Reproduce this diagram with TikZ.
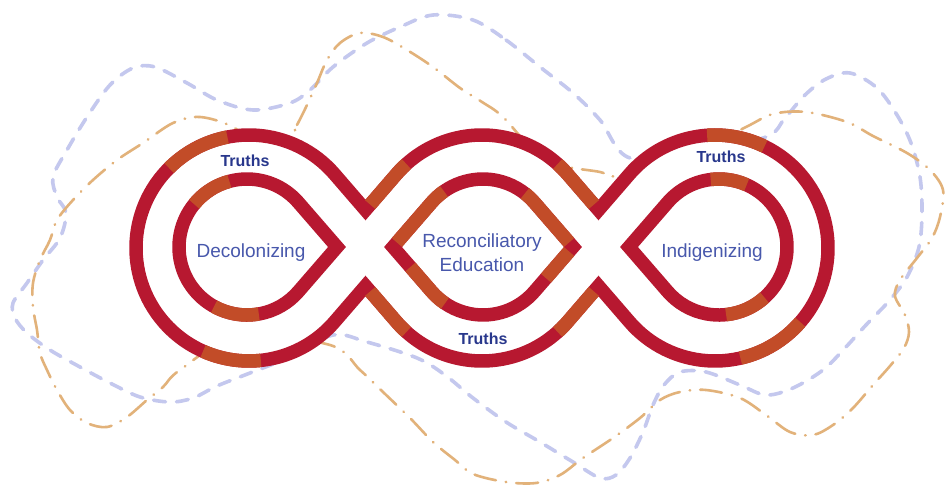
\documentclass[tikz,border=0pt]{standalone}
\usepackage{fontspec}
\setmainfont{Liberation Sans}
\usetikzlibrary{calc}
\definecolor{ringred}{RGB}{183,24,48}
\definecolor{ringorange}{RGB}{194,76,40}
\definecolor{dashblue}{RGB}{196,200,238}
\definecolor{dashtan}{RGB}{226,178,122}
\definecolor{truthblue}{RGB}{40,55,140}
\definecolor{labelblue}{RGB}{72,88,172}
\newcommand\accarc[4]{\draw[accent] ($(#1)+(#2:#4)$) arc[start angle=#2, end angle=#3, radius=#4];}
\begin{document}
\begin{tikzpicture}[x=1pt,y=-1pt,
  ring/.style={draw=ringred, line width=13.5pt, line join=miter, miter limit=6},
  accent/.style={draw=ringorange, line width=13.5pt, line cap=butt},
  bluedash/.style={draw=dashblue, line width=3.6pt, dash pattern=on 12pt off 11pt, line cap=round},
  tandash/.style={draw=dashtan, line width=2.6pt, dash pattern=on 22pt off 10pt on 0.5pt off 10pt, line cap=round},
  truths/.style={font=\bfseries\fontsize{16}{19}\selectfont, text=truthblue, inner sep=0pt},
  lbl/.style={font=\fontsize{19}{24}\selectfont, text=labelblue, align=center, inner sep=0pt}]
\useasboundingbox (0,0) rectangle (946,489);
\fill[white] (0,0) rectangle (946,489);

\coordinate (o1) at (249,248);
\coordinate (o2) at (482,248);
\coordinate (o3) at (715,248);
\coordinate (i1) at (247,247);
\coordinate (i2) at (483,247);
\coordinate (i3) at (719,247);

% dashed background blobs
\draw[bluedash] plot[smooth cycle, tension=0.55] coordinates {
(473,20) (506,40) (540,67) (573,93) (600,120) (630,158) (700,150) (766,137)
(785,118) (805,95) (826,79) (850,73) (877,88) (897,115) (911,143) (920,177)
(922,213) (919,247) (907,277) (889,301) (866,325) (845,348) (823,370) (793,388)
(766,395) (740,385) (706,372) (680,372) (664,385) (653,405) (643,432) (630,458)
(616,475) (600,478) (573,462) (540,442) (506,422) (473,398) (445,375) (417,358)
(367,342) (333,335) (290,357) (250,373) (217,386) (193,398) (170,402) (140,397)
(110,383) (80,367) (50,350) (27,333) (15,318) (13,303) (27,283) (43,260)
(60,238) (66,213) (57,197) (53,177) (67,150) (87,117) (110,85) (133,68)
(155,67) (187,83) (217,100) (253,110) (290,103) (310,90) (333,67) (367,43)
(400,27) (433,15)};

\draw[tandash] plot[smooth cycle, tension=0.55] coordinates {
(290,137) (297,125) (307,105) (317,83) (327,60) (340,43) (360,33) (383,37)
(407,50) (433,67) (460,88) (482,102) (503,117) (545,160) (600,172) (616,176)
(680,160) (746,127) (773,114) (806,112) (847,122) (873,136) (907,153) (930,170)
(943,190) (940,217) (932,238) (917,258) (900,280) (895,296) (905,315) (909,332)
(904,348) (890,366) (873,385) (853,408) (833,425) (813,435) (790,432) (766,415)
(740,398) (706,390) (680,392) (660,400) (640,418) (613,438) (583,458) (560,475)
(536,483) (506,482) (473,474) (455,460) (433,442) (410,418) (383,392) (360,370)
(330,345) (240,335) (180,370) (163,387) (147,400) (127,417) (107,427) (87,423)
(70,410) (57,390) (47,370) (40,353) (37,330) (33,307) (33,283) (40,260)
(50,240) (57,220) (73,200) (93,180) (117,160) (143,143) (173,123) (200,117)
(233,127) (262,150)};

% outer contour: white interior then red ring
\path[fill=white] (365.5,210) -- (334.5,174.13) arc[start angle=-40.82, end angle=-319.18, radius=113]
  -- (365.5,286) -- (396.5,321.87) arc[start angle=139.18, end angle=40.82, radius=113]
  -- (598.5,286) -- (629.5,321.87) arc[start angle=139.18, end angle=-139.18, radius=113]
  -- (598.5,210) -- (567.5,174.13) arc[start angle=-40.82, end angle=-139.18, radius=113] -- cycle;
\draw[ring] (365.5,210) -- (334.5,174.13) arc[start angle=-40.82, end angle=-319.18, radius=113]
  -- (365.5,286) -- (396.5,321.87) arc[start angle=139.18, end angle=40.82, radius=113]
  -- (598.5,286) -- (629.5,321.87) arc[start angle=139.18, end angle=-139.18, radius=113]
  -- (598.5,210) -- (567.5,174.13) arc[start angle=-40.82, end angle=-139.18, radius=113] -- cycle;

% inner shapes
\draw[ring] (337,247) -- (298.4,202.5) arc[start angle=-40.9, end angle=-319.1, radius=68] -- cycle;
\draw[ring] (393,247) -- (431.6,202.5) arc[start angle=-139.1, end angle=-40.9, radius=68]
  -- (573,247) -- (534.4,291.5) arc[start angle=40.9, end angle=139.1, radius=68] -- cycle;
\draw[ring] (629,247) -- (667.6,202.5) arc[start angle=-139.1, end angle=139.1, radius=68] -- cycle;

% orange accents
\accarc{o1}{-135}{-101}{113}
\accarc{o1}{84}{114}{113}
\accarc{i1}{-141}{-105}{68}
\accarc{i1}{80}{119}{68}
\accarc{o3}{-94}{-64}{113}
\accarc{o3}{41}{77}{113}
\accarc{i3}{-97}{-66}{68}
\accarc{i3}{48}{84}{68}
\draw[accent] (370.2,204.6) -- (396.5,174.13) arc[start angle=-139.18, end angle=-132, radius=113];
\draw[accent] ($(o2)+(-48:113)$) arc[start angle=-48, end angle=-40.82, radius=113] -- (593.85,204.6);
\draw[accent] (370.2,291.4) -- (396.5,321.87) arc[start angle=139.18, end angle=132, radius=113];
\draw[accent] ($(o2)+(48:113)$) arc[start angle=48, end angle=40.82, radius=113] -- (593.85,291.4);
\draw[accent] (396.9,242.5) -- (431.6,202.5) arc[start angle=-139.1, end angle=-125, radius=68];
\draw[accent] (410.4,267) -- (431.6,291.5) arc[start angle=139.1, end angle=124, radius=68];
\draw[accent] ($(i2)+(-52:68)$) arc[start angle=-52, end angle=-40.9, radius=68] -- (569.1,242.5);
\draw[accent] (546,278.2) -- (569.1,251.5);

% labels
\node[truths] (t1) at (245,161) {Truths};
\node[truths] (t2) at (483,339) {Truths};
\node[truths] (t3) at (721,157) {Truths};
\node[lbl] (dec) at (251,253) {Decolonizing};
\node[lbl] (rec) at (482,253) {Reconciliatory\\Education};
\node[lbl] (ind) at (712,253) {Indigenizing};
\end{tikzpicture}
\end{document}
